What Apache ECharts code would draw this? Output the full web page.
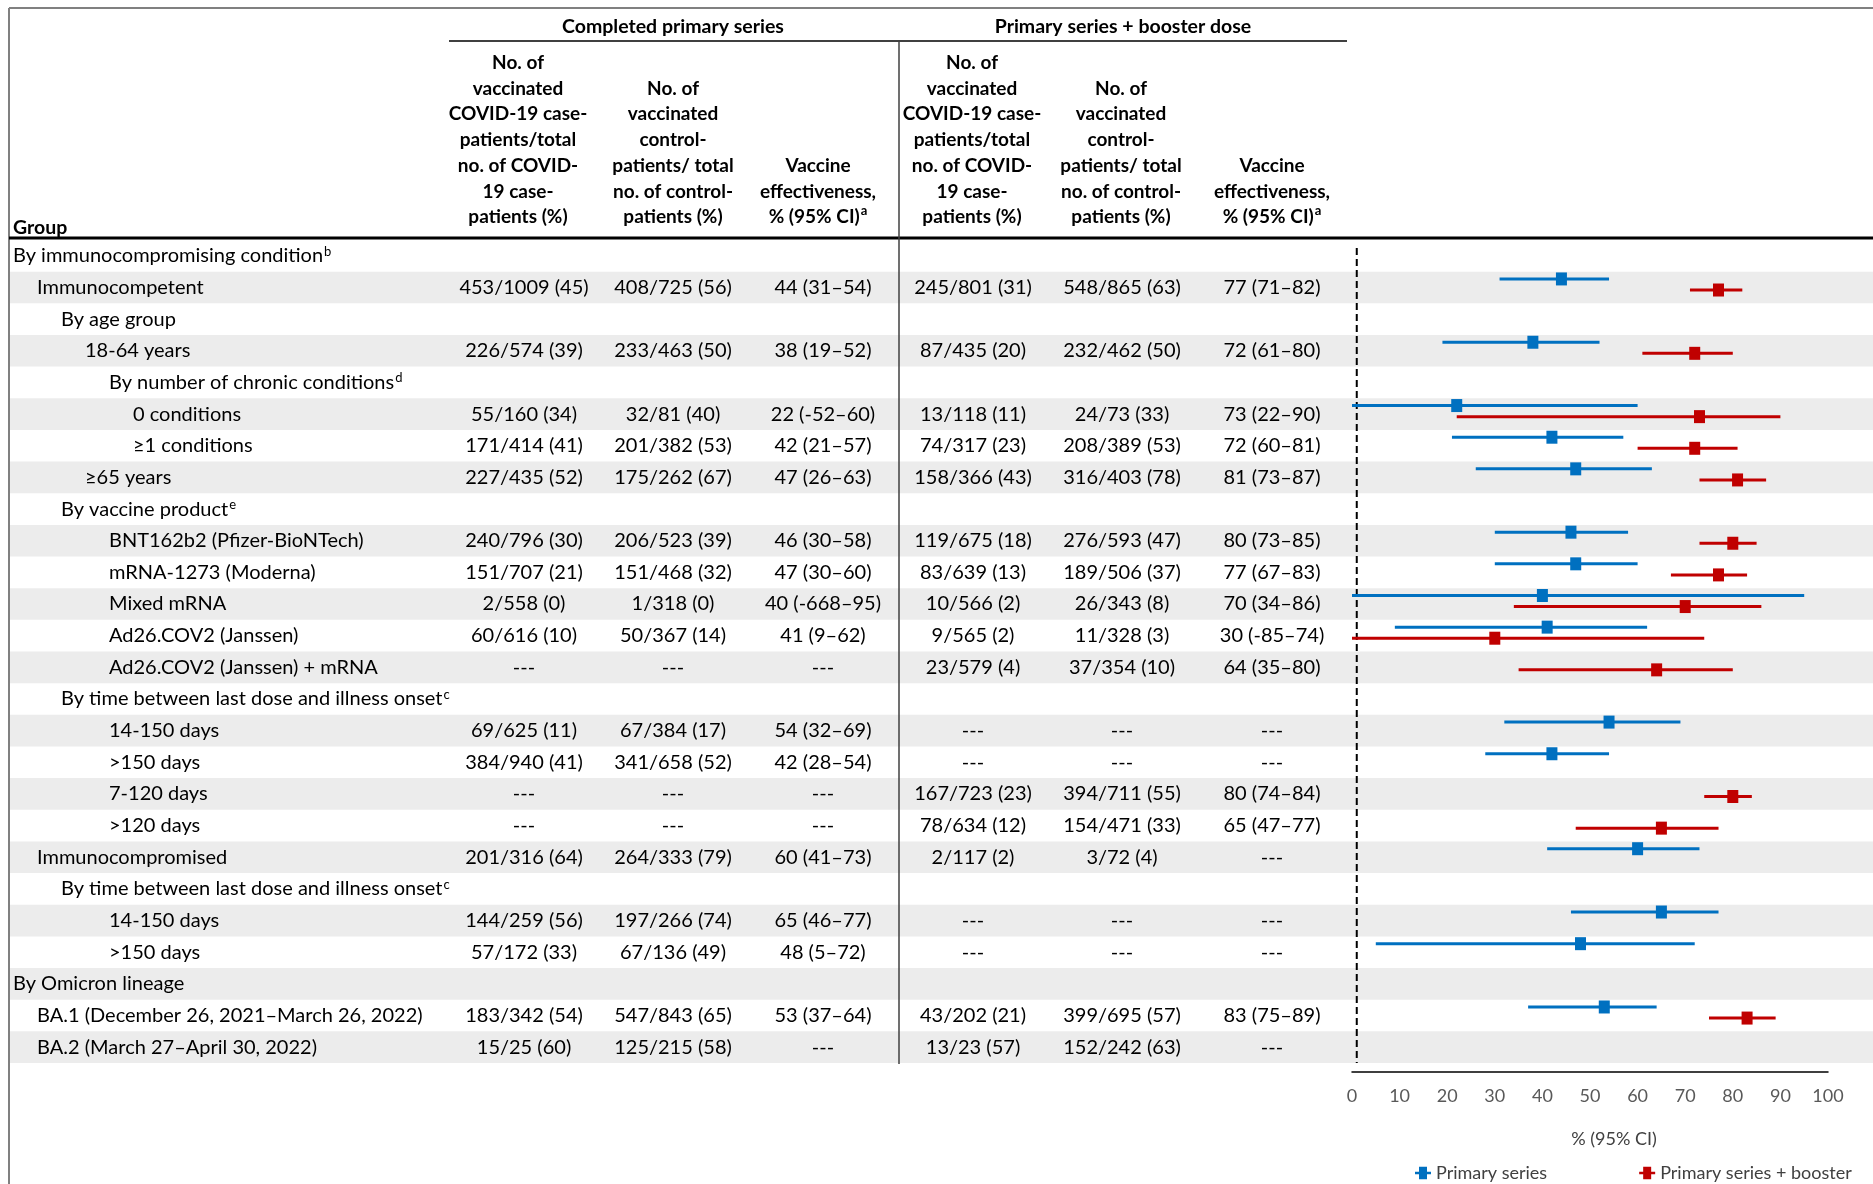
<!DOCTYPE html>
<html>
<head>
<meta charset="utf-8">
<script src="https://cdn.jsdelivr.net/npm/echarts@6/dist/echarts.min.js"></script>
<style>html,body{margin:0;padding:0;background:#fff}#c{width:1873px;height:1184px}</style>
</head>
<body>
<div id="c"></div>
<script>
// ---------- DATA ----------
const rowLabels = ['By immunocompromising condition','Immunocompetent','By age group','18-64 years','By number of chronic conditions','0 conditions','≥1 conditions','≥65 years','By vaccine product','BNT162b2 (Pfizer-BioNTech)','mRNA-1273 (Moderna)','Mixed mRNA','Ad26.COV2 (Janssen)','Ad26.COV2 (Janssen) + mRNA','By time between last dose and illness onset','14-150 days','>150 days','7-120 days','>120 days','Immunocompromised','By time between last dose and illness onset','14-150 days','>150 days','By Omicron lineage','BA.1 (December 26, 2021–March 26, 2022)','BA.2 (March 27–April 30, 2022)'];
const rowNotes = ['b','','','','d','','','','e','','','','','','c','','','','','','c','','','','',''];
const rowLevels = [0,1,2,3,4,5,5,3,2,4,4,4,4,4,2,4,4,4,4,1,2,4,4,0,1,1];

const primCases = ['','453/1009 (45)','','226/574 (39)','','55/160 (34)','171/414 (41)','227/435 (52)','','240/796 (30)','151/707 (21)','2/558 (0)','60/616 (10)','---','','69/625 (11)','384/940 (41)','---','---','201/316 (64)','','144/259 (56)','57/172 (33)','','183/342 (54)','15/25 (60)'];
const primControls = ['','408/725 (56)','','233/463 (50)','','32/81 (40)','201/382 (53)','175/262 (67)','','206/523 (39)','151/468 (32)','1/318 (0)','50/367 (14)','---','','67/384 (17)','341/658 (52)','---','---','264/333 (79)','','197/266 (74)','67/136 (49)','','547/843 (65)','125/215 (58)'];
const primVE = ['','44 (31–54)','','38 (19–52)','','22 (-52–60)','42 (21–57)','47 (26–63)','','46 (30–58)','47 (30–60)','40 (-668–95)','41 (9–62)','---','','54 (32–69)','42 (28–54)','---','---','60 (41–73)','','65 (46–77)','48 (5–72)','','53 (37–64)','---'];
const boostCases = ['','245/801 (31)','','87/435 (20)','','13/118 (11)','74/317 (23)','158/366 (43)','','119/675 (18)','83/639 (13)','10/566 (2)','9/565 (2)','23/579 (4)','','---','---','167/723 (23)','78/634 (12)','2/117 (2)','','---','---','','43/202 (21)','13/23 (57)'];
const boostControls = ['','548/865 (63)','','232/462 (50)','','24/73 (33)','208/389 (53)','316/403 (78)','','276/593 (47)','189/506 (37)','26/343 (8)','11/328 (3)','37/354 (10)','','---','---','394/711 (55)','154/471 (33)','3/72 (4)','','---','---','','399/695 (57)','152/242 (63)'];
const boostVE = ['','77 (71–82)','','72 (61–80)','','73 (22–90)','72 (60–81)','81 (73–87)','','80 (73–85)','77 (67–83)','70 (34–86)','30 (-85–74)','64 (35–80)','','---','---','80 (74–84)','65 (47–77)','---','','---','---','','83 (75–89)','---'];

const primEst  = [null,44,null,38,null,22,42,47,null,46,47,40,41,null,null,54,42,null,null,60,null,65,48,null,53,null];
const primLow  = [null,31,null,19,null,-52,21,26,null,30,30,-668,9,null,null,32,28,null,null,41,null,46,5,null,37,null];
const primHigh = [null,54,null,52,null,60,57,63,null,58,60,95,62,null,null,69,54,null,null,73,null,77,72,null,64,null];
const boostEst  = [null,77,null,72,null,73,72,81,null,80,77,70,30,64,null,null,null,80,65,null,null,null,null,null,83,null];
const boostLow  = [null,71,null,61,null,22,60,73,null,73,67,34,-85,35,null,null,null,74,47,null,null,null,null,null,75,null];
const boostHigh = [null,82,null,80,null,90,81,87,null,85,83,86,74,80,null,null,null,84,77,null,null,null,null,null,89,null];

const refValue = 1;
const xTicksMin = 0, xTicksMax = 100, xTicksStep = 10;
const seriesNames = ['Primary series', 'Primary series + booster'];
const groupHeaders = ['Completed primary series', 'Primary series + booster dose'];
const colHeaders = [
  'No. of\nvaccinated\nCOVID-19 case-\npatients/total\nno. of COVID-\n19 case-\npatients (%)',
  'No. of\nvaccinated\ncontrol-\npatients/ total\nno. of control-\npatients (%)',
  'Vaccine\neffectiveness,\n% (95% CI){s|a}'
];

// ---------- LAYOUT / STYLE ----------
const FONT = 'Lato';
const BLUE = '#0070C0', RED = '#C00000';
const cellX = [524, 673, 823, 973, 1122, 1272];
const headX = [518, 673, 818, 972, 1121, 1272];
const tableCols = [primCases, primControls, primVE, boostCases, boostControls, boostVE];
const blueOff = -0.27, redOff = 0.08;

const chart = echarts.init(document.getElementById('c'), null, {renderer: 'canvas'});

function renderTableRow(params, api) {
  const i = api.value(1);
  const yc = api.coord([0, i])[1];
  const h = api.size([0, 1])[1];
  const cs = params.coordSys;
  const ch = [];
  if (i % 2 === 1) {
    ch.push({type: 'rect', shape: {x: cs.x + 10, y: yc - h / 2, width: cs.width - 10, height: h},
      style: {fill: '#ececec'}, z2: 0});
  }
  const note = rowNotes[i];
  ch.push({type: 'text', z2: 5, style: {
    text: '{n|' + rowLabels[i] + '}' + (note ? '{s|' + note + '}' : ''),
    x: 13 + rowLevels[i] * 24, y: yc, align: 'left', verticalAlign: 'middle',
    fontSize: 20, fontFamily: FONT, fill: '#000',
    rich: {n: {fontSize: 20, fontFamily: FONT, fill: '#000', lineHeight: 22},
           s: {fontSize: 13, fontFamily: FONT, verticalAlign: 'top', fill: '#000', lineHeight: 13, padding: [0, 0, 9, 1]}}
  }});
  tableCols.forEach((col, k) => {
    if (col[i]) ch.push({type: 'text', z2: 5, style: {
      text: col[i], x: cellX[k], y: yc, align: 'center', verticalAlign: 'middle',
      fontSize: 20, fontFamily: FONT, fill: '#000'}});
  });
  return {type: 'group', children: ch};
}

function renderErr(color) {
  return function (params, api) {
    const y = api.value(3);
    const cs = params.coordSys;
    const p1 = api.coord([api.value(1), y]);
    const p2 = api.coord([api.value(2), y]);
    const x1 = Math.max(p1[0], cs.x), x2 = Math.min(p2[0], cs.x + cs.width);
    return {type: 'line', shape: {x1: x1, y1: p1[1], x2: x2, y2: p2[1]},
      style: {stroke: color, lineWidth: 3}};
  };
}

function buildErr(est, lo, hi, off) {
  const d = [];
  est.forEach((v, i) => { if (v !== null) d.push([v, lo[i], hi[i], i + off]); });
  return d;
}
function buildPts(est, off) {
  const d = [];
  est.forEach((v, i) => { if (v !== null) d.push([v, i + off]); });
  return d;
}

const legendIcon = 'path://M0,5h16v2.6H0z M4,0h8v12.6H4z';

const headerGraphics = [];
headerGraphics.push({type: 'line', shape: {x1: 9, y1: 8, x2: 1873, y2: 8}, style: {stroke: '#808080', lineWidth: 2}});
headerGraphics.push({type: 'line', shape: {x1: 9, y1: 8, x2: 9, y2: 1184}, style: {stroke: '#808080', lineWidth: 2}});
headerGraphics.push({type: 'line', shape: {x1: 449, y1: 41, x2: 1347, y2: 41}, style: {stroke: '#000', lineWidth: 1.5}});
headerGraphics.push({type: 'line', shape: {x1: 899, y1: 41, x2: 899, y2: 1064}, style: {stroke: '#404040', lineWidth: 1.5}, z: 10});
headerGraphics.push({type: 'line', shape: {x1: 9, y1: 238, x2: 1873, y2: 238}, style: {stroke: '#000', lineWidth: 3}});
headerGraphics.push({type: 'text', style: {text: groupHeaders[0], x: 673, y: 27, align: 'center', verticalAlign: 'middle', fontSize: 19.5, fontWeight: 'bold', fontFamily: FONT, fill: '#000'}});
headerGraphics.push({type: 'text', style: {text: groupHeaders[1], x: 1123, y: 27, align: 'center', verticalAlign: 'middle', fontSize: 19.5, fontWeight: 'bold', fontFamily: FONT, fill: '#000'}});
headerGraphics.push({type: 'text', style: {text: 'Group', x: 13, y: 228, align: 'left', verticalAlign: 'middle', fontSize: 19.5, fontWeight: 'bold', fontFamily: FONT, fill: '#000'}});
headX.forEach((x, k) => {
  headerGraphics.push({type: 'text', style: {
    text: colHeaders[k % 3], x: x, y: 230, align: 'center', verticalAlign: 'bottom',
    fontSize: 19, fontWeight: 'bold', fontFamily: FONT, fill: '#000', lineHeight: 25.7,
    rich: {s: {fontSize: 13, fontWeight: 'bold', fontFamily: FONT, fill: '#000', verticalAlign: 'top', lineHeight: 13, padding: [0, 0, 9, 1]}}
  }});
});

const option = {
  animation: false,
  backgroundColor: '#fff',
  textStyle: {fontFamily: FONT},
  grid: [
    {left: 0, top: 240, width: 1873, height: 823, outerBoundsMode: 'none', containLabel: false},
    {left: 1352, top: 240, width: 476, height: 832, outerBoundsMode: 'none', containLabel: false}
  ],
  xAxis: [
    {gridIndex: 0, type: 'value', min: 0, max: 1873, show: false},
    {gridIndex: 1, type: 'value', min: xTicksMin, max: xTicksMax, interval: xTicksStep,
      axisLine: {show: true, onZero: false, lineStyle: {color: '#000', width: 1.5}},
      axisTick: {show: false}, splitLine: {show: false},
      axisLabel: {color: '#595959', fontSize: 18, margin: 15, fontFamily: FONT},
      name: '% (95% CI)', nameLocation: 'middle', nameGap: 58,
      nameTextStyle: {color: '#404040', fontSize: 18, fontFamily: FONT, padding: [0, 0, 0, 48]}}
  ],
  yAxis: [
    {gridIndex: 0, type: 'value', min: -0.5, max: 25.5, inverse: true, show: false},
    {gridIndex: 1, type: 'value', min: -0.5, max: 25.784, inverse: true, show: false}
  ],
  legend: {
    left: 1415, top: 1164, padding: 0, itemGap: 92, itemWidth: 16, itemHeight: 12.6,
    textStyle: {fontSize: 18, color: '#404040', fontFamily: FONT},
    data: [{name: seriesNames[0], icon: legendIcon}, {name: seriesNames[1], icon: legendIcon}]
  },
  graphic: headerGraphics,
  series: [
    {type: 'custom', xAxisIndex: 0, yAxisIndex: 0, z: 1, silent: true,
      data: rowLabels.map((_, i) => [0, i]), encode: {x: 0, y: 1}, renderItem: renderTableRow},
    {type: 'line', xAxisIndex: 1, yAxisIndex: 1, z: 2, silent: true, symbol: 'none',
      data: [[refValue, -0.25], [refValue, 25.5]], lineStyle: {color: '#000', width: 2, type: [7, 4]}},
    {type: 'custom', name: seriesNames[0], xAxisIndex: 1, yAxisIndex: 1, z: 3, itemStyle: {color: BLUE},
      data: buildErr(primEst, primLow, primHigh, blueOff), encode: {x: [1, 2], y: 3}, renderItem: renderErr(BLUE)},
    {type: 'custom', name: seriesNames[1], xAxisIndex: 1, yAxisIndex: 1, z: 3, itemStyle: {color: RED},
      data: buildErr(boostEst, boostLow, boostHigh, redOff), encode: {x: [1, 2], y: 3}, renderItem: renderErr(RED)},
    {type: 'scatter', name: seriesNames[0], xAxisIndex: 1, yAxisIndex: 1, z: 4, symbol: 'rect', symbolSize: [11, 13],
      itemStyle: {color: BLUE, opacity: 1}, data: buildPts(primEst, blueOff)},
    {type: 'scatter', name: seriesNames[1], xAxisIndex: 1, yAxisIndex: 1, z: 4, symbol: 'rect', symbolSize: [11, 13],
      itemStyle: {color: RED, opacity: 1}, data: buildPts(boostEst, redOff)}
  ]
};
chart.setOption(option);
</script>
</body>
</html>
